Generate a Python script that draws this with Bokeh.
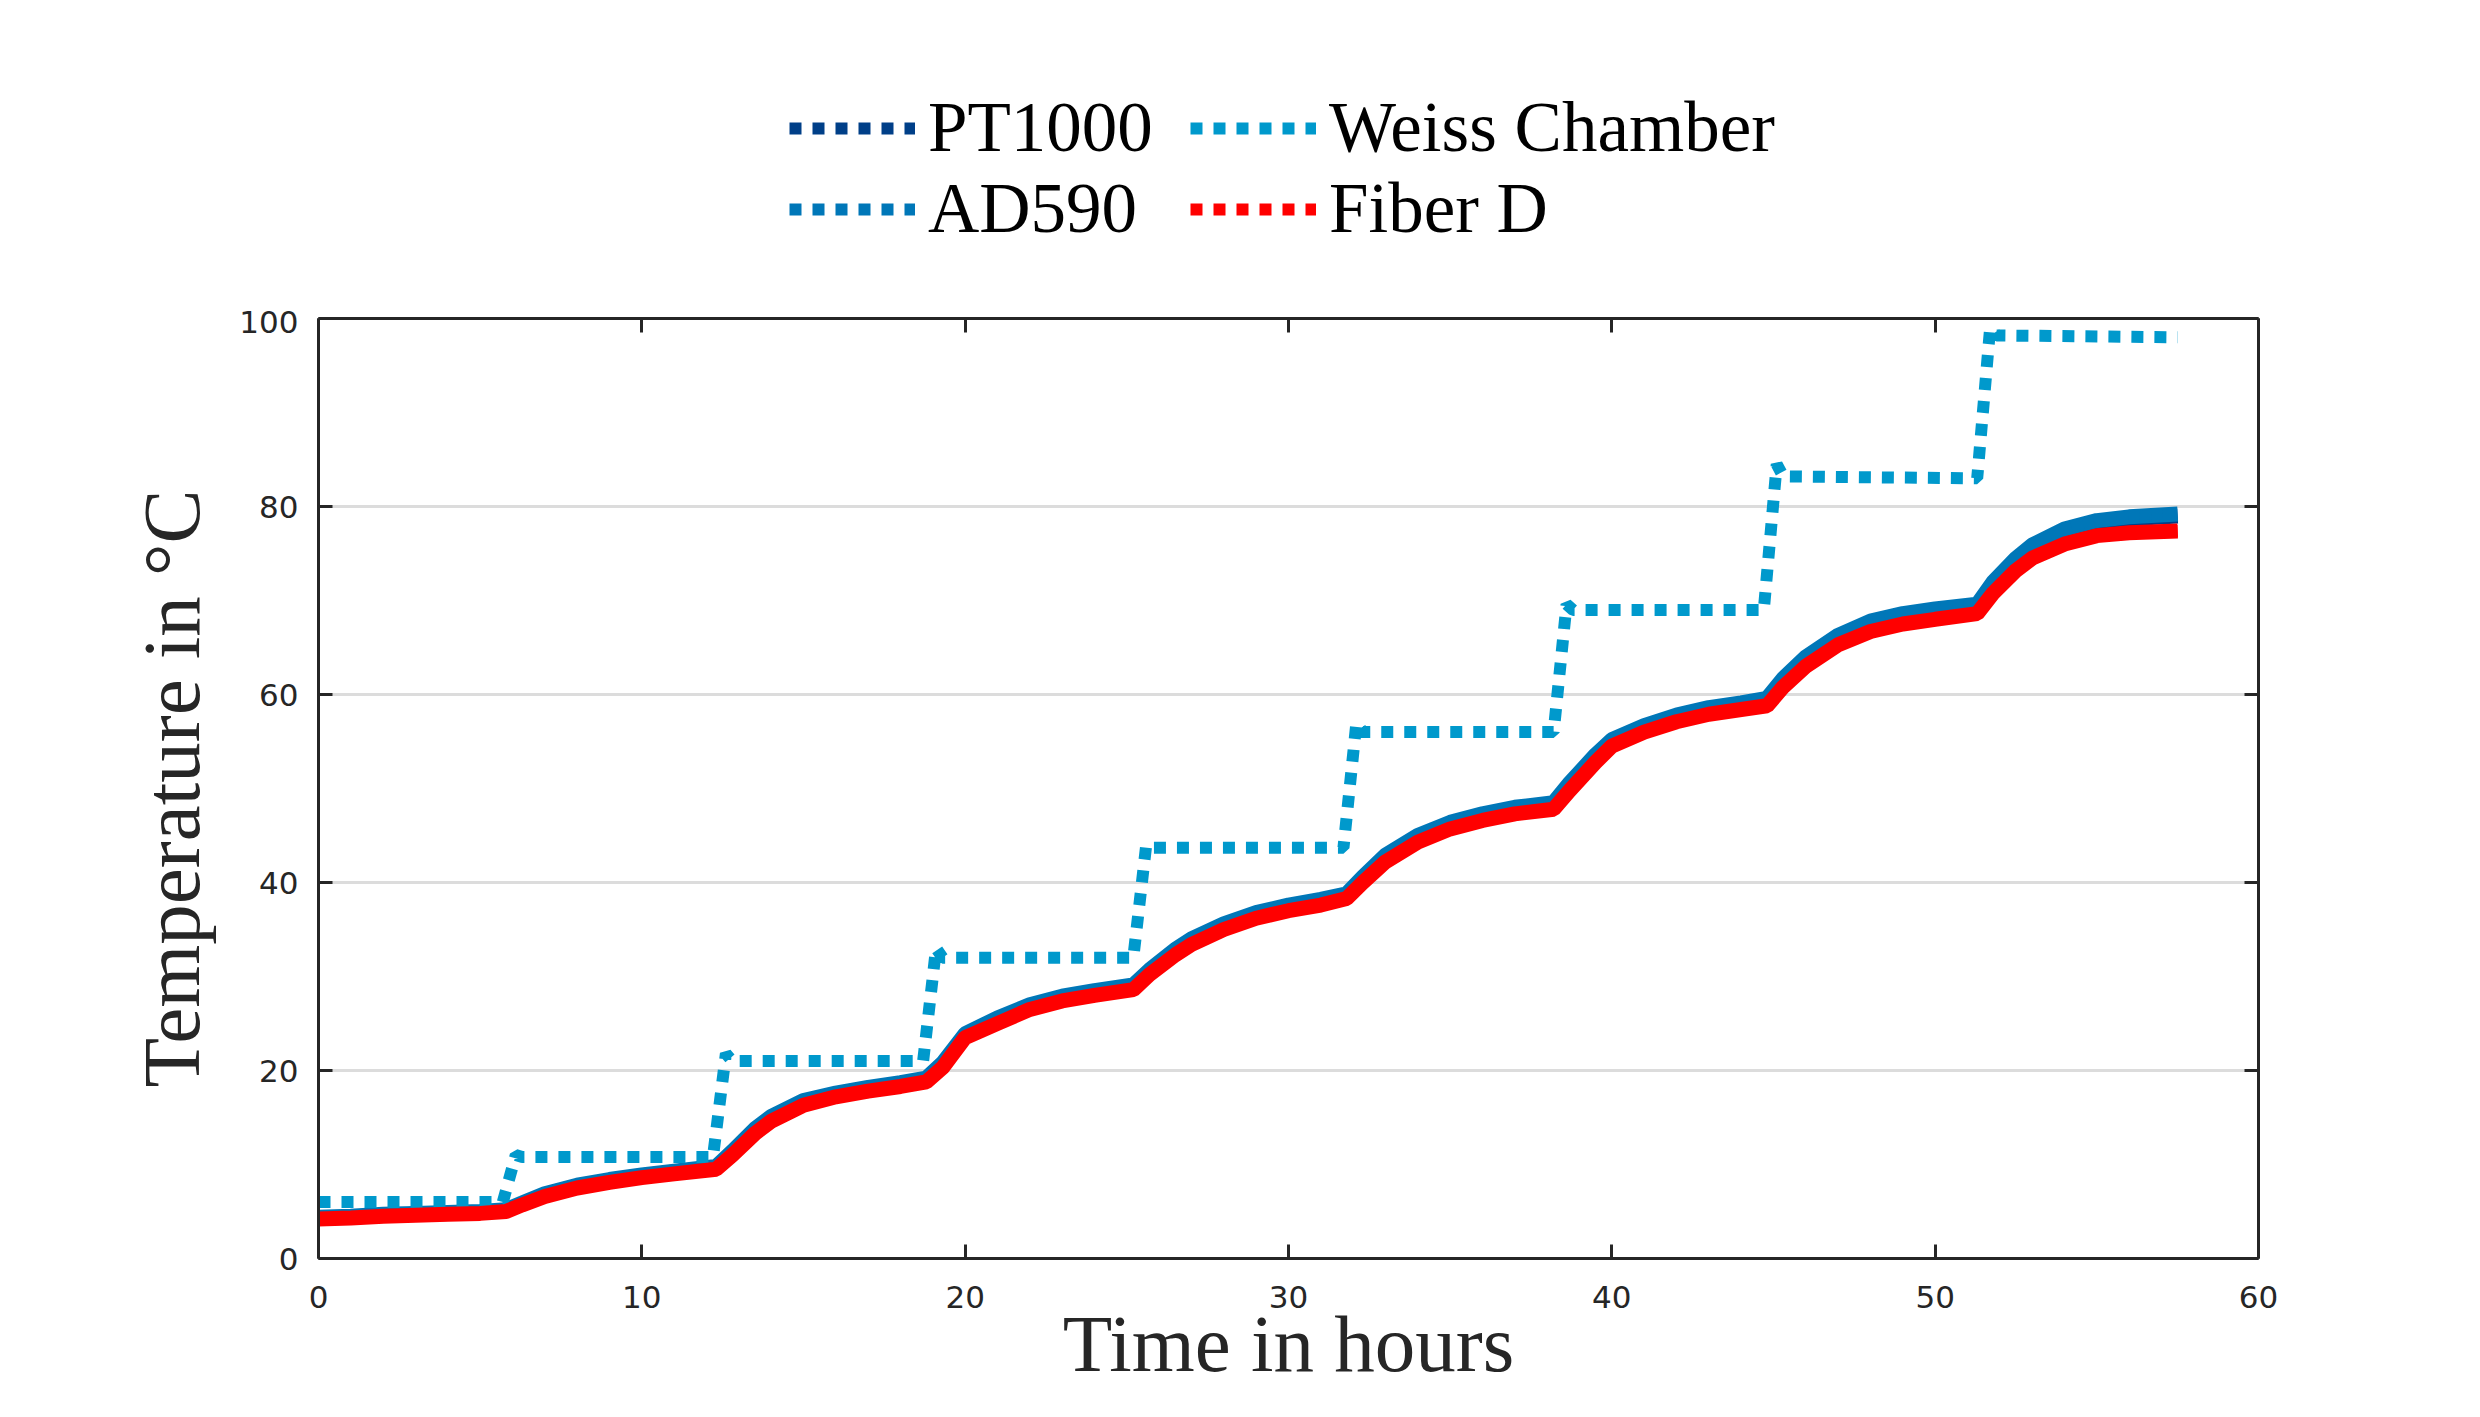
from bokeh.plotting import figure
from bokeh.models import Range1d, LinearAxis, FixedTicker, Legend, LegendItem
from bokeh.layouts import column
from bokeh.embed import file_html
from bokeh.resources import INLINE

# ---- data ----
t_sensor = [0, 1, 2, 3, 4, 5, 5.8, 6.3, 7, 8, 9, 10, 11, 12.3, 12.8, 13.5, 14, 15, 16, 17, 18,
            18.8, 19.3, 20, 21, 22, 23, 24, 25.2, 25.7, 26.5, 27, 28, 29, 30, 31,
            31.8, 32.3, 33, 34, 35, 36, 37, 38.2, 38.7, 39.5, 40, 41, 42, 43, 44,
            44.8, 45.3, 46, 47, 48, 49, 50, 51.3, 51.8, 52.5, 53, 54, 55, 56, 57.5]

fiber_d = [4.2, 4.3, 4.5, 4.6, 4.7, 4.8, 5.0, 5.7, 6.6, 7.5, 8.1, 8.6, 9.0,
           9.5, 11.0, 13.3, 14.6, 16.3, 17.2, 17.8, 18.3,
           18.8, 20.3, 23.5, 25.0, 26.5, 27.4, 28.0,
           28.6, 30.2, 32.3, 33.4, 35.0, 36.2, 37.0, 37.6,
           38.3, 40.0, 42.2, 44.3, 45.7, 46.6, 47.3,
           47.8, 49.8, 52.8, 54.5, 56.0, 57.1, 57.9, 58.4,
           58.8, 60.8, 63.0, 65.3, 66.7, 67.5, 68.0,
           68.6, 70.8, 73.2, 74.5, 76.0, 76.9, 77.2, 77.4]

ad590 = [4.4, 4.5, 4.7, 4.8, 4.9, 5.0, 5.2, 5.9, 6.9, 7.8, 8.4, 8.9, 9.3,
         9.8, 11.4, 13.8, 15.1, 16.8, 17.6, 18.2, 18.7,
         19.2, 20.8, 23.9, 25.6, 27.0, 27.9, 28.5,
         29.1, 30.7, 32.9, 34.0, 35.6, 36.8, 37.6, 38.2,
         38.8, 40.6, 42.9, 45.0, 46.4, 47.3, 48.0,
         48.5, 50.6, 53.6, 55.2, 56.7, 57.8, 58.6, 59.1,
         59.6, 61.7, 64.0, 66.3, 67.8, 68.6, 69.1,
         69.6, 72.0, 74.5, 75.9, 77.6, 78.5, 78.9, 79.2]

pt1000 = [4.3, 4.4, 4.6, 4.7, 4.8, 4.9, 5.1, 5.8, 6.8, 7.7, 8.3, 8.8, 9.2,
          9.7, 11.2, 13.6, 14.9, 16.6, 17.5, 18.1, 18.6,
          19.1, 20.6, 23.7, 25.4, 26.8, 27.7, 28.3,
          28.9, 30.5, 32.7, 33.8, 35.4, 36.6, 37.4, 38.0,
          38.6, 40.4, 42.7, 44.8, 46.2, 47.1, 47.8,
          48.3, 50.4, 53.4, 55.0, 56.5, 57.6, 58.4, 58.9,
          59.4, 61.5, 63.8, 66.1, 67.6, 68.4, 68.9,
          69.4, 71.8, 74.3, 75.7, 77.4, 78.3, 78.7, 79.0]

t_weiss = [0, 5.7, 6.1, 6.3, 12.2, 12.6, 12.8, 18.7, 19.1, 19.3, 25.2, 25.6, 25.8,
           31.7, 32.1, 32.3, 38.2, 38.6, 38.8, 44.7, 45.1, 45.3, 51.3, 51.7, 51.9, 57.5]
weiss = [6.0, 6.0, 11.0, 10.8, 10.8, 21.8, 21.0, 21.0, 33.0, 32.0, 32.0, 44.0, 43.7,
         43.7, 57.0, 56.0, 56.0, 69.6, 69.0, 69.0, 84.5, 83.2, 83.0, 99.0, 98.2, 98.0]

x_ticks = [0, 10, 20, 30, 40, 50, 60]
y_ticks = [0, 20, 40, 60, 80, 100]

names = ["PT1000", "AD590", "Weiss Chamber", "Fiber D"]
colors = ["#003f88", "#0077b8", "#0099cc", "#ff0000"]

AX = "#262626"
SERIF = "Liberation Serif"
SANS = "DejaVu Sans"
W = 2464
LEG_H = 310

# ---------------- main plot ----------------
p = figure(width=W, height=1401 - LEG_H, output_backend="svg", toolbar_location=None,
           x_range=Range1d(0, 60), y_range=Range1d(0, 100),
           min_border_left=318, min_border_right=206, min_border_top=8, min_border_bottom=143,
           x_axis_location="below", y_axis_location="left")
p.outline_line_color = None
p.background_fill_color = "white"

p.xgrid.grid_line_color = None
p.ygrid.ticker = FixedTicker(ticks=y_ticks)
p.ygrid.grid_line_color = "#dcdcdc"
p.ygrid.grid_line_width = 3

dash = "12 11"
lw = 12
band = 15
series = [(t_sensor, pt1000), (t_sensor, ad590), (t_weiss, weiss), (t_sensor, fiber_d)]
for i, (tx, vy) in enumerate(series):
    if i != 2:
        # dense sensor samples render as a nearly solid band
        p.line(tx, vy, line_color=colors[i], line_width=band)
    p.line(tx, vy, line_color=colors[i], line_width=lw, line_dash=dash)


def style_axis(ax, ticks, show_labels):
    ax.ticker = FixedTicker(ticks=ticks)
    ax.axis_line_color = AX
    ax.axis_line_width = 3
    ax.major_tick_line_color = AX
    ax.major_tick_line_width = 3
    ax.major_tick_in = 14
    ax.major_tick_out = 0
    ax.minor_tick_line_color = None
    ax.major_label_text_font = SANS
    ax.major_label_text_font_size = "31px"
    ax.major_label_text_color = AX
    if not show_labels:
        ax.major_label_text_font_size = "0px"
        ax.major_label_text_alpha = 0
        ax.major_label_standoff = 0


style_axis(p.xaxis[0], x_ticks, True)
style_axis(p.yaxis[0], y_ticks, True)
p.xaxis[0].major_label_standoff = 27
p.yaxis[0].major_label_standoff = 20

for ax, lab, so in ((p.xaxis[0], "Time in hours", -12), (p.yaxis[0], "Temperature in \u00b0C", 19)):
    ax.axis_label = lab
    ax.axis_label_text_font = SERIF
    ax.axis_label_text_font_size = "81px"
    ax.axis_label_text_font_style = "normal"
    ax.axis_label_text_color = AX
    ax.axis_label_standoff = so

top_ax = LinearAxis()
style_axis(top_ax, x_ticks, False)
p.add_layout(top_ax, "above")
right_ax = LinearAxis()
style_axis(right_ax, y_ticks, False)
p.add_layout(right_ax, "right")

# ---------------- legend strip above the plot ----------------
lg = figure(width=W, height=LEG_H, output_backend="svg", toolbar_location=None,
            x_range=Range1d(-200, -100), y_range=Range1d(-200, -100),
            x_axis_type=None, y_axis_type=None,
            min_border_left=0, min_border_right=0, min_border_top=0, min_border_bottom=0)
lg.outline_line_color = None
lg.xgrid.grid_line_color = None
lg.ygrid.grid_line_color = None
items = []
for i, (tx, vy) in enumerate(series):
    r = lg.line(tx, vy, line_color=colors[i], line_width=lw, line_dash=dash)
    items.append(LegendItem(label=names[i], renderers=[r]))

legend = Legend(items=items, location=(471, 61), ncols=2)
legend.label_text_font = SERIF
legend.label_text_font_size = "71px"
legend.label_text_color = "black"
legend.glyph_width = 126
legend.glyph_height = 40
legend.label_standoff = 13
legend.label_width = 262
legend.spacing = 0
legend.padding = 0
legend.margin = 0
legend.border_line_color = None
legend.background_fill_alpha = 0
lg.add_layout(legend, "center")

layout = column(lg, p, spacing=0)
open("out.html", "w").write(file_html(layout, INLINE))
